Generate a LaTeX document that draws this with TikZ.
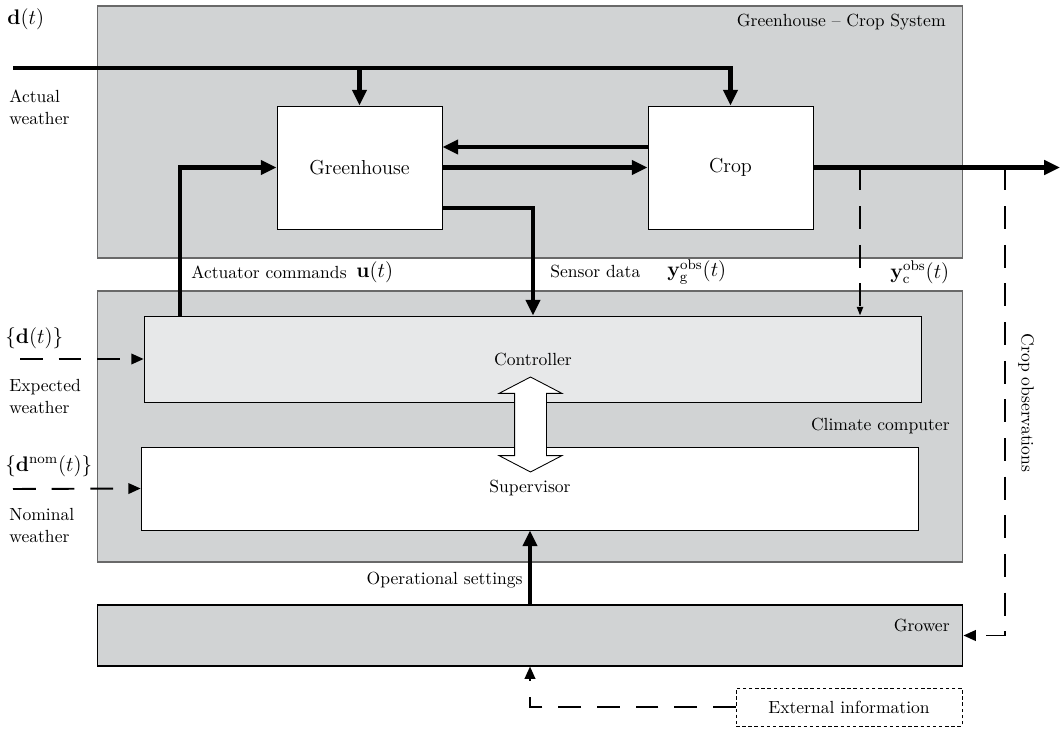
\documentclass[tikz,border=0pt]{standalone}
\usetikzlibrary{arrows.meta,shapes.arrows}
\definecolor{sysgray}{RGB}{209,211,212}
\definecolor{ctrlgray}{RGB}{231,232,233}
\definecolor{edgegray}{RGB}{105,105,105}
\tikzset{
    every node/.style={font=\fontsize{10}{12.5}\selectfont, inner sep=0pt},
    boxlbl/.style={font=\fontsize{11.5}{13.5}\selectfont},
    mathlbl/.style={font=\fontsize{11.5}{13.5}\selectfont},
    outerbox/.style={rectangle, draw=edgegray, fill=sysgray, line width=0.6pt},
    innerbox/.style={rectangle, draw=black, fill=white, line width=0.5pt},
    signal/.style={line width=2.3pt, -{Triangle[length=9pt,width=8pt]}},
    infoline/.style={line width=1.1pt, dash pattern=on 13pt off 9pt, -{Triangle[length=7pt,width=6pt]}},
    tapline/.style={line width=1.1pt, dash pattern=on 13pt off 9pt, -{Triangle[length=5pt,width=3.5pt]}},
    linkarrow/.style={double arrow, draw=black, fill=white, line width=0.5pt, rotate=90,
        inner xsep=0pt, inner ysep=0.31cm, minimum height=1.9cm,
        double arrow head extend=0.31cm, double arrow tip angle=125},
}
\begin{document}
\begin{tikzpicture}[x=0.02cm, y=-0.02cm]
        \useasboundingbox (0,0) rectangle (1061,729);
        \node[outerbox, minimum width=17.32cm, minimum height=5.04cm] (sys) at (530,132) {};
        \node[outerbox, minimum width=17.32cm, minimum height=5.42cm] (clim) at (530,426.5) {};
        \node[outerbox, draw=black, minimum width=17.32cm, minimum height=1.22cm] (grower) at (530,635.5) {};
        \node[innerbox, boxlbl, minimum width=3.3cm, minimum height=2.46cm] (gh) at (359.5,167.5) {Greenhouse};
        \node[innerbox, boxlbl, minimum width=3.3cm, minimum height=2.46cm] (crop) at (730.5,167.5) {Crop};
        \node[innerbox, fill=ctrlgray, minimum width=15.56cm, minimum height=1.72cm] (ctrl) at (533,359) {Controller};
        \node[innerbox, minimum width=15.56cm, minimum height=1.66cm] (sup) at (530,488.5) {Supervisor};
        \node[rectangle, draw=black, line width=0.4pt, dash pattern=on 2pt off 1.5pt, minimum width=4.52cm, minimum height=0.76cm] (ext) at (849,707) {External information};
        \node[linkarrow] (link) at (530.5,424.5) {};
        \node[anchor=east] (sysname) at (946,22) {Greenhouse -- Crop System};
        \node[anchor=east] (climname) at (950,426) {Climate computer};
        \node[anchor=east] (growname) at (950,625) {Grower};
        \node[mathlbl, anchor=west] (dlbl) at (7,19) {$\mathbf{d}(t)$};
        \node[anchor=north west, align=left] (actual) at (9,90) {Actual\\weather};
        \node[mathlbl, anchor=west] (dexplbl) at (5,338) {$\{\mathbf{d}(t)\}$};
        \node[anchor=north west, align=left] (expected) at (9,379) {Expected\\weather};
        \node[mathlbl, anchor=west] (dnomlbl) at (5,466) {$\{\mathbf{d}^{\mathrm{nom}}(t)\}$};
        \node[anchor=north west, align=left] (nominal) at (9,508) {Nominal\\weather};
        \node[anchor=west] (actlbl) at (191,272) {Actuator commands};
        \node[mathlbl, anchor=west] (ulbl) at (356,272) {$\mathbf{u}(t)$};
        \node[anchor=west] (senslbl) at (550,272) {Sensor data};
        \node[mathlbl, anchor=west] (yglbl) at (667,272) {$\mathbf{y}_{\mathrm{g}}^{\mathrm{obs}}(t)$};
        \node[mathlbl, anchor=west] (yclbl) at (890,272) {$\mathbf{y}_{\mathrm{c}}^{\mathrm{obs}}(t)$};
        \node[anchor=east] (oplbl) at (523,580) {Operational settings};
        \node[rotate=-90] (obslbl) at (1026,403) {Crop observations};
        \coordinate (dIn) at (13,68);
        \coordinate (dExp) at (20,359);
        \coordinate (dNom) at (13,489);
        \coordinate (out) at (1060,167.5);
        \coordinate (tapC) at (860,167.5);
        \coordinate (tapG) at (1005,167.5);
        \draw[signal] (dIn) -| (crop.north);
        \draw[signal] (gh.north |- dIn) -- (gh.north);
        \draw[signal] ([yshift=0.41cm]crop.west) -- ([yshift=0.41cm]gh.east);
        \draw[signal] (gh.east) -- (crop.west);
        \draw[signal] ([yshift=-0.81cm]gh.east) -| (ctrl.north);
        \draw[signal] ([xshift=0.72cm]ctrl.north west) |- (gh.west);
        \draw[signal] (crop.east) -- (out);
        \draw[signal] (grower.north -| sup.south) -- (sup.south);
        \draw[tapline] (tapC) -- (tapC |- ctrl.north);
        \draw[infoline] (tapG) |- (grower.east);
        \draw[infoline] (dExp) -- (ctrl.west);
        \draw[infoline] (dNom) -- (sup.west);
        \draw[infoline] (ext.west) -| (sup.south |- grower.south);
\end{tikzpicture}
\end{document}
